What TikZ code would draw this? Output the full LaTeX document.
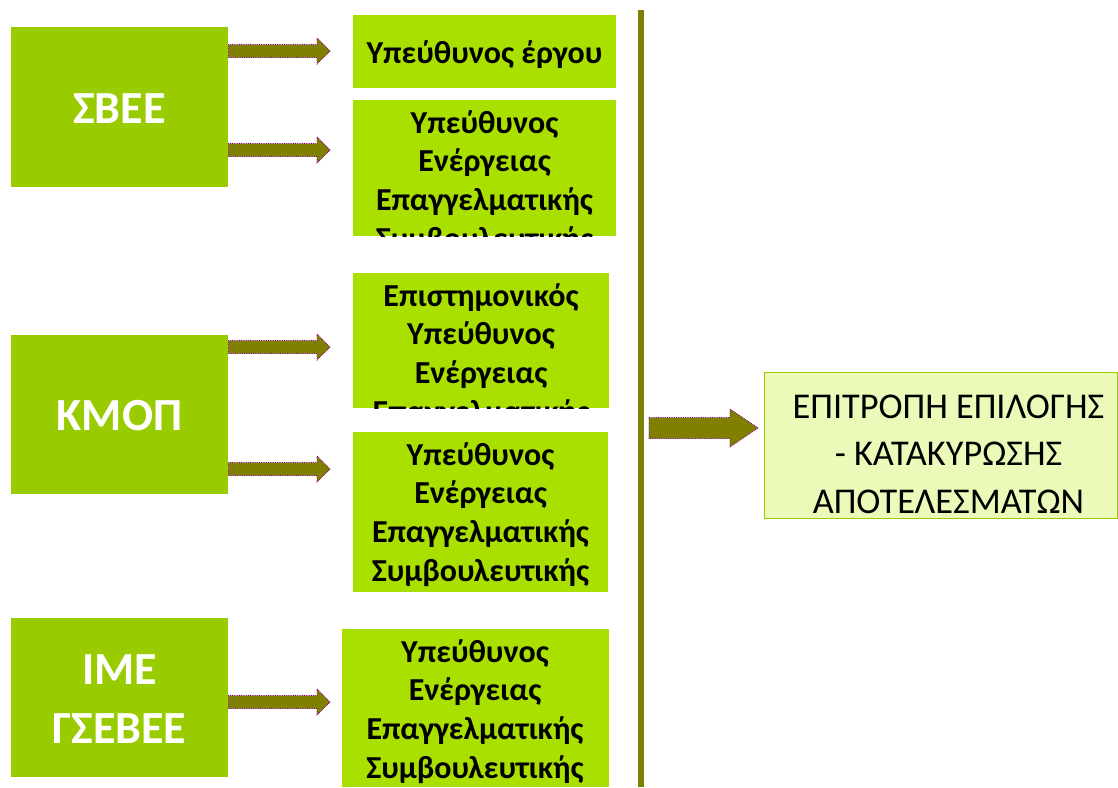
\documentclass[tikz,border=0pt]{standalone}
\usepackage{fontspec}
\setmainfont{Carlito}
\usetikzlibrary{calc}
\definecolor{dkgreen}{HTML}{99CC00}
\definecolor{ltgreen}{HTML}{AAE000}
\definecolor{pale}{HTML}{EBFAB8}
\definecolor{olivec}{HTML}{808000}
\definecolor{purp}{HTML}{800080}
\newcommand\barrow[5]{%
  \draw[arr] let \p1=(#1), \p2=(#2) in
  (\x1,\y1+#3pt) -- (\x2-#5pt,\y1+#3pt) -- (\x2-#5pt,\y1+#4pt) -- (\x2,\y1)
  -- (\x2-#5pt,\y1-#4pt) -- (\x2-#5pt,\y1-#3pt) -- (\x1,\y1-#3pt) -- cycle;}
\begin{document}
\begin{tikzpicture}[x=1pt,y=-1pt,
  srcbox/.style={fill=dkgreen, draw=none, inner sep=0pt, anchor=north west},
  tgtbox/.style={fill=ltgreen, draw=none, inner sep=0pt, anchor=north west},
  srctext/.style={text=white, font=\fontsize{46}{59}\selectfont\bfseries, align=center, inner sep=0pt, anchor=north},
  tgttext/.style={text=black, font=\fontsize{32}{38.7}\selectfont\bfseries, align=center, inner sep=0pt, anchor=north},
  restext/.style={text=black, font=\fontsize{36.3}{47.5}\selectfont, align=center, inner sep=0pt, anchor=north},
  arr/.style={fill=olivec, draw=purp, densely dotted, line width=0.8pt},
  vline/.style={draw=olivec, line width=6pt}]
\useasboundingbox (0,0) rectangle (1118,787);

% source boxes
\node[srcbox, minimum width=217pt, minimum height=160pt] (sbee) at (11,27) {};
\node[srcbox, minimum width=217pt, minimum height=159pt] (kmop) at (11,335) {};
\node[srcbox, minimum width=217pt, minimum height=159pt] (ime) at (11,618) {};
\node[srctext] (sbeet) at (119.5,83) {\rule{0pt}{40pt}ΣΒΕΕ};
\node[srctext] (kmopt) at (119.5,390) {\rule{0pt}{40pt}ΚΜΟΠ};
\node[srctext] (imet) at (119.5,644) {\rule{0pt}{40pt}ΙΜΕ\\ΓΣΕΒΕΕ};

% target boxes
\node[tgtbox, minimum width=263pt, minimum height=73pt] (t1) at (353,15) {};
\node[tgtbox, minimum width=263pt, minimum height=136pt] (t2) at (353,100) {};
\node[tgtbox, minimum width=256pt, minimum height=135pt] (t3) at (353,273) {};
\node[tgtbox, minimum width=255pt, minimum height=160pt] (t4) at (353,432) {};
\node[tgtbox, minimum width=267pt, minimum height=158pt] (t5) at (342,629) {};

\node[tgttext] (t1t) at (484.5,30) {\rule{0pt}{33pt}Υπεύθυνος έργου};
\begin{scope}
  \clip (t2.north west) rectangle (t2.south east);
  \node[tgttext] (t2t) at (484.5,100) {\rule{0pt}{33pt}Υπεύθυνος\\Ενέργειας\\Επαγγελματικής\\Συμβουλευτικής};
\end{scope}
\begin{scope}
  \clip (t3.north west) rectangle (t3.south east);
  \node[tgttext] (t3t) at (481,273) {\rule{0pt}{33pt}Επιστημονικός\\Υπεύθυνος\\Ενέργειας\\Επαγγελματικής};
\end{scope}
\node[tgttext] (t4t) at (480.5,432) {\rule{0pt}{33pt}Υπεύθυνος\\Ενέργειας\\Επαγγελματικής\\Συμβουλευτικής};
\begin{scope}
  \clip (t5.north west) rectangle (t5.south east);
  \node[tgttext] (t5t) at (475,629) {\rule{0pt}{33pt}Υπεύθυνος\\Ενέργειας\\Επαγγελματικής\\Συμβουλευτικής};
\end{scope}

% arrows from sources
\coordinate (a1) at (sbee.east |- 0,51);   \coordinate (e1) at (330,51);
\coordinate (a2) at (sbee.east |- 0,150);  \coordinate (e2) at (330,150);
\coordinate (a3) at (kmop.east |- 0,347);  \coordinate (e3) at (330,347);
\coordinate (a4) at (kmop.east |- 0,469);  \coordinate (e4) at (330,469);
\coordinate (a5) at (ime.east |- 0,702);   \coordinate (e5) at (330,702);
\barrow{a1}{e1}{6.5}{13}{13}
\barrow{a2}{e2}{6.5}{13}{13}
\barrow{a3}{e3}{6.5}{13}{13}
\barrow{a4}{e4}{6.5}{13}{13}
\barrow{a5}{e5}{6.5}{13}{13}

% vertical bar
\coordinate (vtop) at (641,10);
\coordinate (vbot) at (641,787);
\draw[vline] (vtop) -- (vbot);

% result box
\node[fill=pale, draw=dkgreen, line width=1.2pt, inner sep=0pt, anchor=north west,
      minimum width=353pt, minimum height=146pt] (res) at (764,372) {};
\node[restext] (rest) at (948.5,382) {\rule{0pt}{36pt}ΕΠΙΤΡΟΠΗ ΕΠΙΛΟΓΗΣ\\- ΚΑΤΑΚΥΡΩΣΗΣ\\ΑΠΟΤΕΛΕΣΜΑΤΩΝ};

\coordinate (b1) at (649,428);
\coordinate (b2) at (res.west |- b1);
\coordinate (b2s) at ($(b2)+(-6,0)$);
\barrow{b1}{b2s}{10.5}{19}{28}
\end{tikzpicture}
\end{document}
